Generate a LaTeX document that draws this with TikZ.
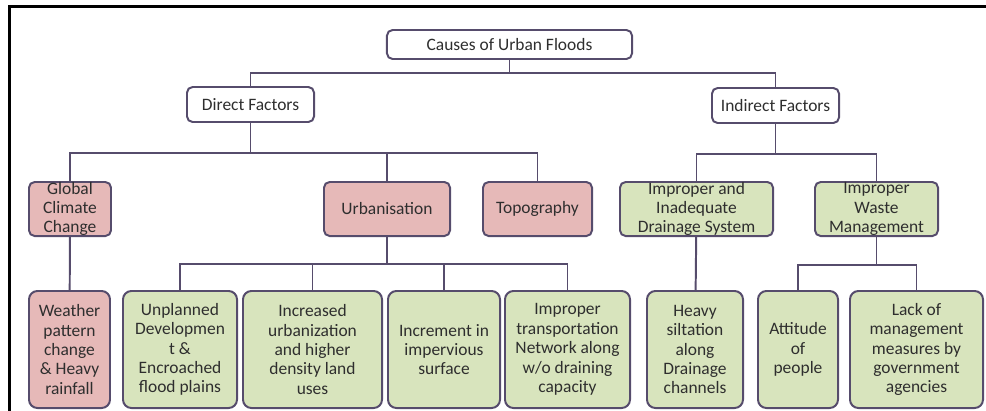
\documentclass[tikz,border=0pt]{standalone}
\usepackage{fontspec}
\setmainfont{Carlito}
\usepackage{tikz}

\definecolor{edgeline}{HTML}{564C6C}
\definecolor{rosefill}{HTML}{E6B9B8}
\definecolor{leaffill}{HTML}{D8E4BD}
\definecolor{inktext}{HTML}{2E2E2E}

\begin{document}
\begin{tikzpicture}[x=0.025cm, y=-0.025cm, font=\fontsize{12.4}{13.8}\selectfont]

    % Define styles
    \tikzstyle{base} = [
        rectangle, rounded corners=4pt, draw=edgeline, line width=1.4pt,
        align=center, text=inktext, inner xsep=2pt, inner ysep=0pt
    ]
    \tikzstyle{head} = [base, fill=white, minimum height=0.875cm]
    \tikzstyle{factor} = [base, fill=rosefill, minimum height=1.35cm]
    \tikzstyle{system} = [base, fill=leaffill, minimum height=1.35cm]
    \tikzstyle{effect} = [base, fill=leaffill, rounded corners=6pt, minimum height=2.925cm]
    \tikzstyle{weathercase} = [effect, fill=rosefill]
    \tikzstyle{link} = [draw=edgeline, line width=1.4pt]

    \path[use as bounding box, clip] (0,0) rectangle (986,410);

    % Outer frame
    \draw[black, line width=2.2pt] (1010,6.5) -- (9.5,6.5) -- (9.5,430);

    % Nodes
    \node[head, minimum width=6.125cm, minimum height=0.725cm] (root) at (509.5,44.5) {Causes of Urban Floods};
    \node[head, minimum width=3.175cm] (direct) at (250.5,104.5) {Direct Factors};
    \node[head, minimum width=3.175cm] (indirect) at (775.5,105.5) {Indirect Factors};

    \node[factor, minimum width=2.05cm] (climate) at (70,209) {Global\\Climate\\Change};
    \node[factor, minimum width=3.15cm] (urban) at (387,209) {Urbanisation};
    \node[factor, minimum width=2.725cm] (topo) at (537.5,209) {Topography};
    \node[system, minimum width=3.825cm] (drainage) at (696.5,209) {Improper and\\Inadequate\\Drainage System};
    \node[system, minimum width=3.075cm] (waste) at (876.5,209) {Improper\\Waste\\Management};

    \node[weathercase, minimum width=2.025cm] (weather) at (69.5,349.5) {Weather\\pattern\\change\\\& Heavy\\rainfall};
    \node[effect, minimum width=2.85cm] (unplanned) at (180,349.5) {Unplanned\\Developmen\\{}t~\&\\Encroached\\flood plains};
    \node[effect, minimum width=3.475cm] (density) at (312.5,349.5) {Increased\\urbanization\\and higher\\density land\\uses};
    \node[effect, minimum width=2.8cm] (impervious) at (444,349.5) {Increment in\\impervious\\surface};
    \node[effect, minimum width=3.125cm] (transport) at (567.5,349.5) {Improper\\transportation\\Network along\\w/o draining\\capacity};
    \node[effect, minimum width=2.4cm] (siltation) at (695,349.5) {Heavy\\siltation\\along\\Drainage\\channels};
    \node[effect, minimum width=2.0cm] (attitude) at (798,349.5) {Attitude\\of\\people};
    \node[effect, minimum width=3.325cm] (agencies) at (916.5,349.5) {Lack of\\management\\measures by\\government\\agencies};

    % Connectors
    \draw[link] (root.south) -- ++(0,13) -| (direct.north);
    \draw[link] (root.south) -- ++(0,13) -| (indirect.north);

    \draw[link] (direct.south) -- ++(0,30) -| (climate.north);
    \draw[link] (direct.south) -- ++(0,30) -| (urban.north);
    \draw[link] (direct.south) -- ++(0,30) -| (topo.north);
    \draw[link] (indirect.south) -- ++(0,30) -| (drainage.north);
    \draw[link] (indirect.south) -- ++(0,30) -| (waste.north);

    \draw[link] (climate) -- (weather);
    \draw[link] (urban.south) -- ++(0,27) -| (unplanned.north);
    \draw[link] (urban.south) -- ++(0,27) -| (density.north);
    \draw[link] (urban.south) -- ++(0,27) -| (impervious.north);
    \draw[link] (urban.south) -- ++(0,27) -| (transport.north);
    \draw[link] (drainage) -- (siltation);
    \draw[link] (waste.south) -- ++(0,28) -| (attitude.north);
    \draw[link] (waste.south) -- ++(0,28) -| (agencies.north);

\end{tikzpicture}
\end{document}
